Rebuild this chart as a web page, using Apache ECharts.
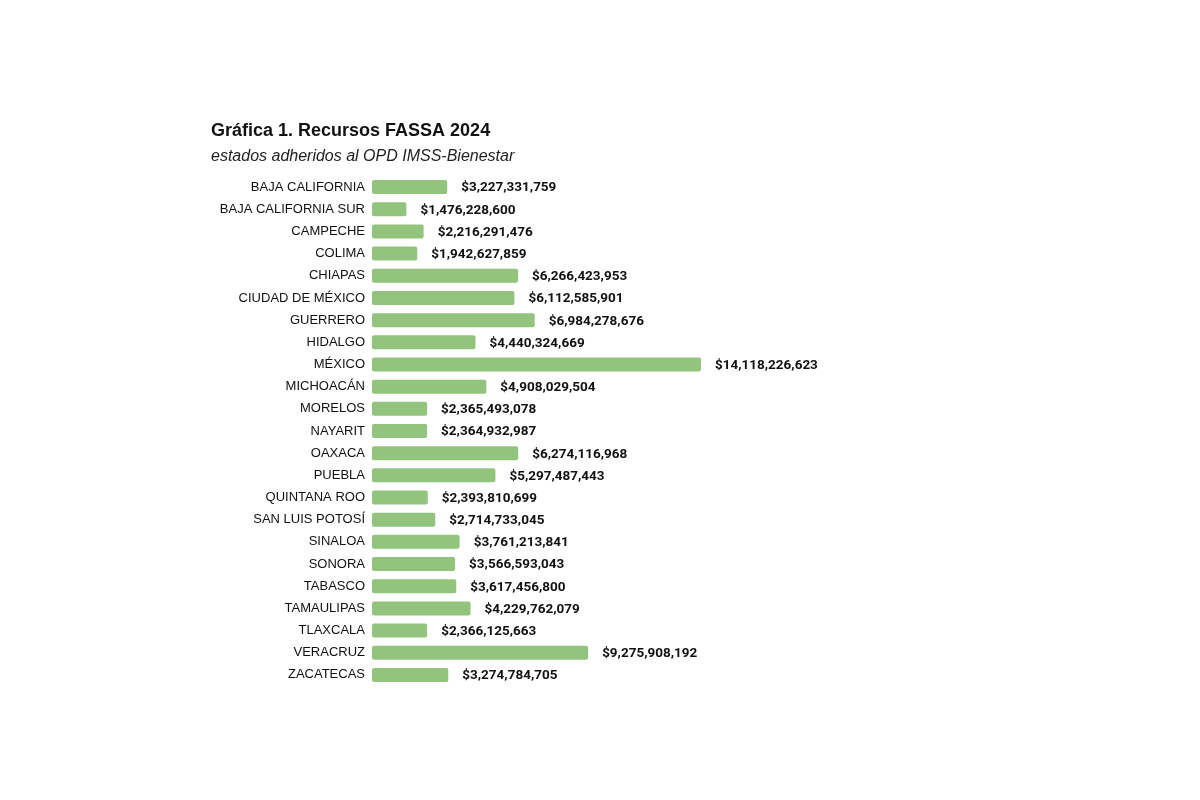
<!DOCTYPE html>
<html>
<head>
<meta charset="utf-8">
<script src="https://cdn.jsdelivr.net/npm/echarts@6/dist/echarts.min.js"></script>
<style>
  html, body { margin: 0; padding: 0; background: #fff; }
  #chart { width: 1200px; height: 800px; }
</style>
</head>
<body>
<div id="chart"></div>
<script>
var estados = ['BAJA CALIFORNIA', 'BAJA CALIFORNIA SUR', 'CAMPECHE', 'COLIMA', 'CHIAPAS',
    'CIUDAD DE MÉXICO', 'GUERRERO', 'HIDALGO', 'MÉXICO', 'MICHOACÁN', 'MORELOS', 'NAYARIT',
    'OAXACA', 'PUEBLA', 'QUINTANA ROO', 'SAN LUIS POTOSÍ', 'SINALOA', 'SONORA', 'TABASCO',
    'TAMAULIPAS', 'TLAXCALA', 'VERACRUZ', 'ZACATECAS'];

var recursos = [3227331759, 1476228600, 2216291476, 1942627859, 6266423953,
    6112585901, 6984278676, 4440324669, 14118226623, 4908029504, 2365493078, 2364932987,
    6274116968, 5297487443, 2393810699, 2714733045, 3761213841, 3566593043, 3617456800,
    4229762079, 2366125663, 9275908192, 3274784705];

var chart = echarts.init(document.getElementById('chart'));

function pesos(v) {
    return '$' + v.toString().replace(/\B(?=(\d{3})+(?!\d))/g, ',');
}

var option = {
    backgroundColor: '#ffffff',
    animation: false,
    title: {
        text: 'Gráfica 1. Recursos FASSA 2024',
        subtext: 'estados adheridos al OPD IMSS-Bienestar',
        left: 206,
        top: 117,
        itemGap: 9,
        textStyle: {
            fontFamily: 'Liberation Sans',
            fontSize: 18,
            fontWeight: 'bold',
            color: '#111'
        },
        subtextStyle: {
            fontFamily: 'Liberation Sans',
            fontSize: 16,
            fontStyle: 'italic',
            color: '#222'
        }
    },
    grid: {
        left: 372,
        right: 362,
        top: 176,
        bottom: 114,
        containLabel: false
    },
    xAxis: {
        type: 'value',
        min: 0,
        max: 20000000000,
        show: false
    },
    yAxis: {
        type: 'category',
        inverse: true,
        data: estados,
        axisLine: { show: false },
        axisTick: { show: false },
        axisLabel: {
            margin: 7,
            padding: [3, 0, 0, 0],
            fontFamily: 'Liberation Sans',
            fontSize: 13,
            color: '#111'
        }
    },
    series: [
        {
            type: 'bar',
            data: recursos,
            barWidth: 14,
            itemStyle: {
                color: '#93c47d',
                borderRadius: 2
            },
            label: {
                show: true,
                position: 'right',
                distance: 14,
                offset: [0, 1],
                fontFamily: 'Roboto',
                fontWeight: 'bold',
                fontSize: 13.5,
                color: '#111',
                formatter: function (p) { return pesos(p.value); }
            }
        }
    ]
};

chart.setOption(option);
</script>
</body>
</html>
